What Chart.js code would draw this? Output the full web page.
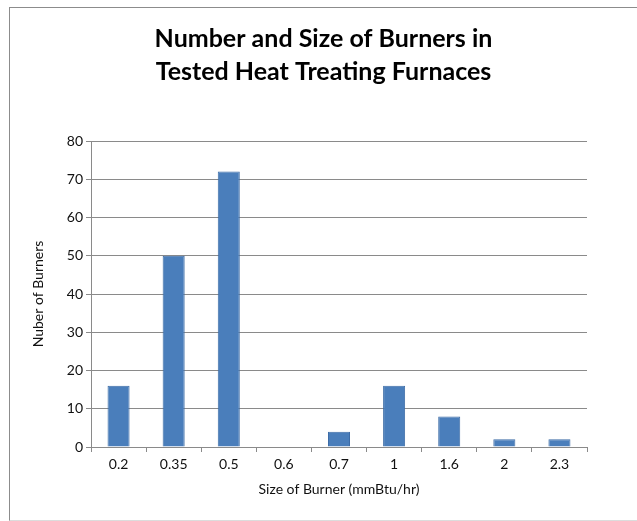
<!DOCTYPE html>
<html>
<head>
<meta charset="utf-8">
<script src="https://cdn.jsdelivr.net/npm/chart.js@4"></script>
<style>
  html, body { margin: 0; padding: 0; background: #fff; overflow: hidden; }
  #frame {
    position: absolute; left: 9px; top: 7px;
    width: 640px; height: 512px;
    border-left: 1px solid #8c8c8c;
    border-top: 1px solid #8c8c8c;
    border-bottom: 1px solid #dcdcdc;
  }
  #wrap { position: absolute; left: 0; top: 0; width: 627px; height: 512px; }
</style>
</head>
<body>
<div id="frame">
  <div id="wrap"><canvas id="burners"></canvas></div>
</div>
<script>
// Burner sizes (mmBtu/hr) and how many of each were found
const sizes = ['0.2', '0.35', '0.5', '0.6', '0.7', '1', '1.6', '2', '2.3'];
const burnerCounts = [16, 50, 72, 0, 4, 16, 8, 2, 2];
const yTicks = [0, 10, 20, 30, 40, 50, 60, 70, 80];

const labelFont = { family: 'Lato, "Open Sans", sans-serif', size: 14 };

const config = {
  type: 'bar',
  data: {
    labels: sizes,
    datasets: [
      {
        label: 'Burners',
        data: burnerCounts,
        backgroundColor: '#4a7ebb',
        borderColor: '#3d6ca6',
        borderWidth: 1,
        categoryPercentage: 1.0,
        barPercentage: 0.4
      }
    ]
  },
  options: {
    responsive: true,
    maintainAspectRatio: false,
    animation: false,
    layout: { padding: { left: 0, right: 0, top: 0, bottom: 5 } },
    plugins: {
      legend: { display: false },
      tooltip: { enabled: false },
      title: {
        display: true,
        text: ['Number and Size of Burners in', 'Tested Heat Treating Furnaces'],
        color: '#000',
        font: { family: 'Lato, "Open Sans", sans-serif', size: 25, weight: 'bold', lineHeight: 1.3 },
        padding: { top: 15, bottom: 53 }
      }
    },
    scales: {
      x: {
        offset: true,
        grid: {
          offset: true,
          drawOnChartArea: false,
          drawTicks: true,
          tickLength: 5,
          color: '#8a8a8a'
        },
        border: { color: '#8a8a8a' },
        ticks: { color: '#111', font: labelFont, padding: 4 },
        title: {
          display: true,
          text: 'Size of Burner (mmBtu/hr)',
          color: '#111',
          font: labelFont,
          padding: { top: 4, bottom: 17 }
        },
        afterFit: function (scale) { scale.height = 68; }
      },
      y: {
        min: 0,
        max: 80,
        afterBuildTicks: function (scale) {
          scale.ticks = yTicks.map(v => ({ value: v }));
        },
        grid: { color: '#8a8a8a', tickLength: 5 },
        border: { color: '#8a8a8a' },
        ticks: { color: '#111', font: labelFont, padding: 3 },
        title: {
          display: true,
          text: 'Nuber of Burners',
          color: '#111',
          font: labelFont,
          padding: { top: 20, bottom: 4 }
        },
        afterFit: function (scale) { scale.width = 81; }
      },
      // empty right-hand axis that only reserves the blank margin beside the plot
      yRight: {
        position: 'right',
        min: 0,
        max: 80,
        grid: { drawOnChartArea: false, drawTicks: false },
        border: { display: false },
        ticks: { display: false },
        afterFit: function (scale) { scale.width = 50; }
      }
    }
  }
};

new Chart(document.querySelector('#burners'), config);
</script>
</body>
</html>
